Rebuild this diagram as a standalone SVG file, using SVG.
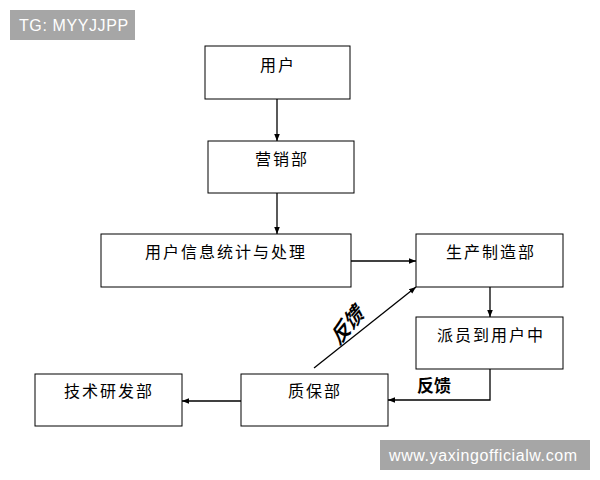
<svg xmlns="http://www.w3.org/2000/svg" width="600" height="480" viewBox="0 0 600 480">
<defs>
<marker id="ah" viewBox="0 0 10 10" refX="10" refY="5" markerWidth="7" markerHeight="7" orient="auto" markerUnits="userSpaceOnUse">
<path d="M0,1 L10,5 L0,9 z" fill="#000"/>
</marker>
<style>
.box{fill:#fff;stroke:#000;stroke-width:1}
.t{font-family:"Liberation Sans","Noto Sans CJK SC",sans-serif;font-size:16px;letter-spacing:2px;fill:#000;text-anchor:middle}
.c{fill:none;stroke:#000;stroke-width:1.3;marker-end:url(#ah)}
.fb{font-family:"Noto Sans CJK SC",sans-serif;font-weight:bold;fill:#000}
.badge{fill:#a6a6a6}
.bt{font-family:"Liberation Sans","Noto Sans",sans-serif;font-size:16px;letter-spacing:0.6px;fill:#fff}
</style>
</defs>
<rect width="600" height="480" fill="#fff"/>
<g id="badge-tg"><rect class="badge" x="10" y="10" width="125" height="30"/><text class="bt" x="19" y="31">TG: MYYJJPP</text></g>
<g id="connectors">
<line class="c" x1="277" y1="99" x2="277" y2="141"/>
<line class="c" x1="277" y1="193" x2="277" y2="234"/>
<line class="c" x1="351" y1="261" x2="416" y2="261"/>
<line class="c" x1="490" y1="287" x2="490" y2="317"/>
<polyline class="c" points="490,369 490,400 388,400"/>
<line class="c" x1="241" y1="401" x2="182" y2="401"/>
<line class="c" x1="314" y1="368" x2="416" y2="287"/>
<text class="fb" font-size="20" transform="translate(339,346) rotate(-50) skewX(-22)">反馈</text>
<text class="fb" font-size="17" x="417" y="392">反馈</text>
</g>
<g id="n-user"><rect class="box" x="205" y="46" width="145" height="53"/><text class="t" x="278" y="71">用户</text></g>
<g id="n-sales"><rect class="box" x="208" y="141" width="146" height="52"/><text class="t" x="282" y="165">营销部</text></g>
<g id="n-stats"><rect class="box" x="101" y="234" width="250" height="53"/><text class="t" x="226" y="258">用户信息统计与处理</text></g>
<g id="n-prod"><rect class="box" x="416" y="234" width="147" height="53"/><text class="t" x="491" y="258">生产制造部</text></g>
<g id="n-dispatch"><rect class="box" x="416" y="317" width="147" height="52"/><text class="t" x="491" y="341">派员到用户中</text></g>
<g id="n-qa"><rect class="box" x="241" y="374" width="147" height="52"/><text class="t" x="315" y="397">质保部</text></g>
<g id="n-rd"><rect class="box" x="35" y="374" width="147" height="52"/><text class="t" x="109" y="397">技术研发部</text></g>
<g id="badge-web"><rect class="badge" x="380" y="440" width="210" height="30"/><text class="bt" x="389" y="461">www.yaxingofficialw.com</text></g>
</svg>
